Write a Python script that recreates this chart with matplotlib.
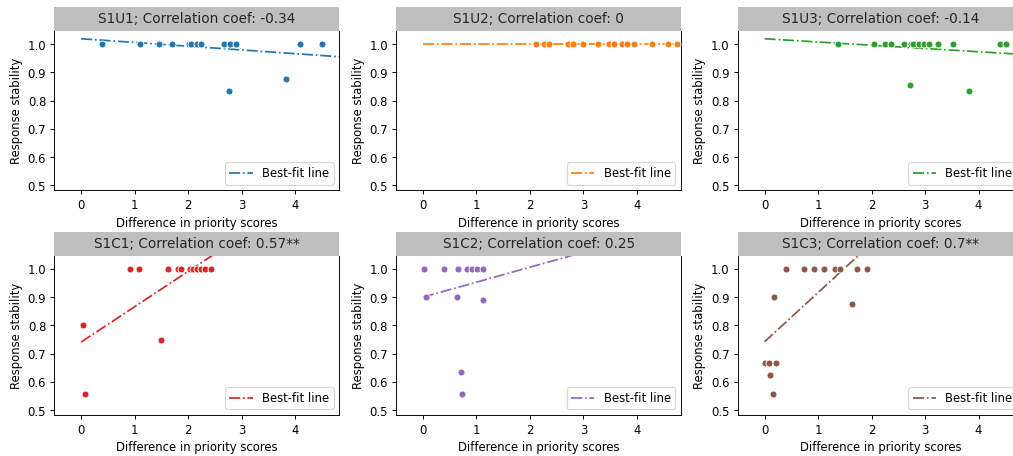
import matplotlib
matplotlib.use("Agg")
import matplotlib.pyplot as plt
from matplotlib.patches import Rectangle
import numpy as np

# ---------------- data ----------------
titles = ["S1U1; Correlation coef: -0.34", "S1U2; Correlation coef: 0",
          "S1U3; Correlation coef: -0.14", "S1C1; Correlation coef: 0.57**",
          "S1C2; Correlation coef: 0.25", "S1C3; Correlation coef: 0.7**"]
colors = ["#1f77b4", "#ff7f0e", "#2ca02c", "#d62728", "#9467bd", "#8c564b"]

s1u1_x = [0.40, 1.10, 1.46, 1.70, 2.02, 2.06, 2.17, 2.24, 2.68, 2.78, 2.90, 4.10, 4.50, 2.76, 3.84]
s1u1_y = [1.0, 1.0, 1.0, 1.0, 1.0, 1.0, 1.0, 1.0, 1.0, 1.0, 1.0, 1.0, 1.0, 0.833, 0.875]

s1u2_x = [2.11, 2.26, 2.35, 2.71, 2.81, 3.00, 3.28, 3.47, 3.58, 3.73, 3.82, 3.94, 4.29, 4.58, 4.75]
s1u2_y = [1.0] * 15

s1u3_x = [1.37, 2.05, 2.25, 2.37, 2.60, 2.74, 2.78, 2.89, 2.99, 3.07, 3.24, 3.52, 4.41, 4.52, 2.72, 3.83]
s1u3_y = [1.0, 1.0, 1.0, 1.0, 1.0, 1.0, 1.0, 1.0, 1.0, 1.0, 1.0, 1.0, 1.0, 1.0, 0.857, 0.833]

s1c1_x = [0.92, 1.09, 1.62, 1.81, 1.86, 2.03, 2.09, 2.17, 2.24, 2.31, 2.43, 0.04, 0.07, 1.49]
s1c1_y = [1.0, 1.0, 1.0, 1.0, 1.0, 1.0, 1.0, 1.0, 1.0, 1.0, 1.0, 0.80, 0.556, 0.75]

s1c2_x = [0.02, 0.40, 0.66, 0.83, 0.91, 1.01, 1.12, 0.05, 0.63, 1.12, 0.71, 0.74]
s1c2_y = [1.0, 1.0, 1.0, 1.0, 1.0, 1.0, 1.0, 0.90, 0.90, 0.889, 0.636, 0.556]

s1c3_x = [0.41, 0.73, 0.92, 1.12, 1.31, 1.42, 1.73, 1.92, 0.18, 1.64, 0.00, 0.08, 0.22, 0.10, 0.15]
s1c3_y = [1.0, 1.0, 1.0, 1.0, 1.0, 1.0, 1.0, 1.0, 0.90, 0.875, 0.667, 0.667, 0.667, 0.625, 0.556]

panel_x = [s1u1_x, s1u2_x, s1u3_x, s1c1_x, s1c2_x, s1c3_x]
panel_y = [s1u1_y, s1u2_y, s1u3_y, s1c1_y, s1c2_y, s1c3_y]

fit_intercepts = [1.019, 1.0, 1.019, 0.741, 0.90, 0.742]
fit_slopes = [-0.0132, 0.0, -0.0115, 0.125, 0.053, 0.174]

# ---------------- layout ----------------
W, H = 1013, 456
DPI = 83.5
fig = plt.figure(figsize=((W + 0.4) / DPI, (H + 0.4) / DPI), dpi=DPI)

col_left = [54.3, 396.0, 737.5]
ax_w = 285.0
row_bottom = [190.7, 415.3]   # pixel y from top
ax_h = 159.5
box_h = 23.7

for i in range(6):
    r, c = divmod(i, 3)
    left = col_left[c] / W
    bottom = (H - row_bottom[r]) / H
    ax = fig.add_axes([left, bottom, ax_w / W, ax_h / H])

    ax.scatter(panel_x[i], panel_y[i], s=36, color=colors[i],
               edgecolor="white", linewidth=0.75, zorder=3)
    xs = np.array([0.0, 6.0])
    ax.plot(xs, fit_intercepts[i] + fit_slopes[i] * xs, linestyle="-.",
            color=colors[i], linewidth=1.5, label="Best-fit line", zorder=2)

    ax.set_xlim(-0.5, 4.83)
    ax.set_ylim(0.482, 1.047)
    ax.set_xticks([0, 1, 2, 3, 4])
    ax.set_yticks([0.5, 0.6, 0.7, 0.8, 0.9, 1.0])
    ax.tick_params(labelsize=10)
    ax.set_xlabel("Difference in priority scores", fontsize=10)
    ax.set_ylabel("Response stability", fontsize=10)
    ax.legend(loc="lower right", fontsize=10)
    ax.spines["top"].set_visible(False)

    hfrac = box_h / ax_h
    ax.add_patch(Rectangle((0, 1), 1, hfrac, transform=ax.transAxes,
                           facecolor="#bfbfbf", edgecolor="none",
                           clip_on=False, zorder=5))
    ax.text(0.5, 1 + hfrac / 2, titles[i], transform=ax.transAxes,
            ha="center", va="center", fontsize=11.8, color="#262626", zorder=6)

fig.savefig("out.png", dpi=DPI)
